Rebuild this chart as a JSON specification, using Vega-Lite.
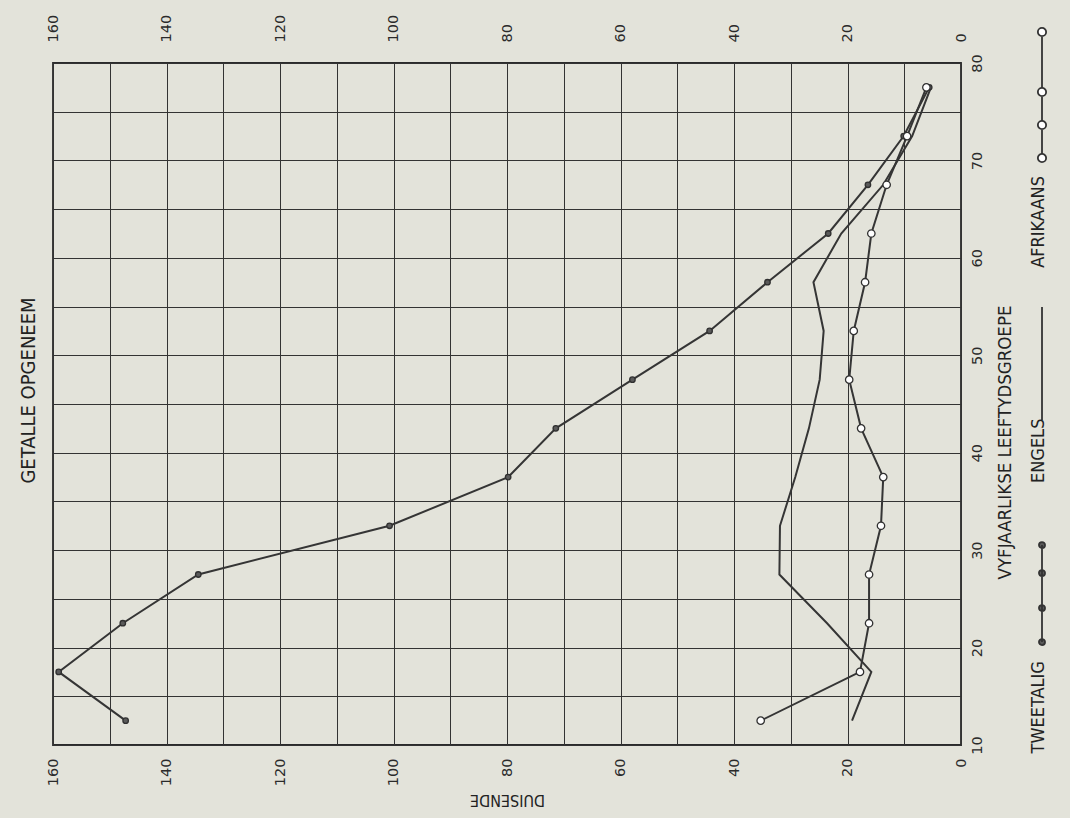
{
  "$schema": "https://vega.github.io/schema/vega-lite/v6.json",
  "autosize": {"type": "none"},
  "padding": {"left": 53, "top": 63, "right": 1017, "bottom": 755},
  "background": "#e3e3da",
  "spacing": 5,
  "config": {
    "view": {"stroke": "#2b2b2b", "strokeWidth": 1.8},
    "axis": {
      "domain": false,
      "ticks": false,
      "labelFont": "DejaVu Sans",
      "labelFontSize": 14.5,
      "labelColor": "#2a2a2a",
      "gridColor": "#333333",
      "gridWidth": 1,
      "gridOpacity": 1,
      "titleFont": "'DejaVu Sans Condensed', 'Liberation Sans Narrow', 'Roboto Condensed', Roboto, sans-serif",
      "titleFontSize": 18.5,
      "titleFontWeight": "normal",
      "titleColor": "#222222"
    }
  },
  "hconcat": [
    {
      "width": 908,
      "height": 682,
      "data": {
        "values": [
          {"group": "TWEETALIG", "age": 12.5, "value": 147.2},
          {"group": "TWEETALIG", "age": 17.5, "value": 159.0},
          {"group": "TWEETALIG", "age": 22.5, "value": 147.7},
          {"group": "TWEETALIG", "age": 27.5, "value": 134.4},
          {"group": "TWEETALIG", "age": 32.5, "value": 100.7},
          {"group": "TWEETALIG", "age": 37.5, "value": 79.8},
          {"group": "TWEETALIG", "age": 42.5, "value": 71.4},
          {"group": "TWEETALIG", "age": 47.5, "value": 57.9},
          {"group": "TWEETALIG", "age": 52.5, "value": 44.3},
          {"group": "TWEETALIG", "age": 57.5, "value": 34.1},
          {"group": "TWEETALIG", "age": 62.5, "value": 23.4},
          {"group": "TWEETALIG", "age": 67.5, "value": 16.4},
          {"group": "TWEETALIG", "age": 72.5, "value": 10.1},
          {"group": "TWEETALIG", "age": 77.5, "value": 5.6},
          {"group": "ENGELS", "age": 12.5, "value": 19.2},
          {"group": "ENGELS", "age": 17.5, "value": 15.8},
          {"group": "ENGELS", "age": 22.5, "value": 23.6},
          {"group": "ENGELS", "age": 27.5, "value": 32.0},
          {"group": "ENGELS", "age": 32.5, "value": 31.9},
          {"group": "ENGELS", "age": 37.5, "value": 29.2},
          {"group": "ENGELS", "age": 42.5, "value": 26.8},
          {"group": "ENGELS", "age": 47.5, "value": 24.9},
          {"group": "ENGELS", "age": 52.5, "value": 24.2},
          {"group": "ENGELS", "age": 57.5, "value": 26.0},
          {"group": "ENGELS", "age": 62.5, "value": 21.1},
          {"group": "ENGELS", "age": 67.5, "value": 13.7},
          {"group": "ENGELS", "age": 72.5, "value": 8.6},
          {"group": "ENGELS", "age": 77.5, "value": 5.3},
          {"group": "AFRIKAANS", "age": 12.5, "value": 35.3},
          {"group": "AFRIKAANS", "age": 17.5, "value": 17.8},
          {"group": "AFRIKAANS", "age": 22.5, "value": 16.2},
          {"group": "AFRIKAANS", "age": 27.5, "value": 16.2},
          {"group": "AFRIKAANS", "age": 32.5, "value": 14.1},
          {"group": "AFRIKAANS", "age": 37.5, "value": 13.7},
          {"group": "AFRIKAANS", "age": 42.5, "value": 17.6},
          {"group": "AFRIKAANS", "age": 47.5, "value": 19.7},
          {"group": "AFRIKAANS", "age": 52.5, "value": 18.9},
          {"group": "AFRIKAANS", "age": 57.5, "value": 16.9},
          {"group": "AFRIKAANS", "age": 62.5, "value": 15.8},
          {"group": "AFRIKAANS", "age": 67.5, "value": 13.1},
          {"group": "AFRIKAANS", "age": 72.5, "value": 9.5},
          {"group": "AFRIKAANS", "age": 77.5, "value": 6.1}
        ]
      },
      "layer": [
        {
          "mark": {"type": "line", "color": "#353535", "strokeWidth": 2},
          "encoding": {
            "x": {
              "field": "value",
              "type": "quantitative",
              "scale": {"domain": [0, 160], "reverse": true, "nice": false},
              "axis": {
                "orient": "bottom",
                "values": [0, 10, 20, 30, 40, 50, 60, 70, 80, 90, 100, 110, 120, 130, 140, 150, 160],
                "labelExpr": "datum.value % 20 === 0 ? datum.label : ''",
                "grid": true,
                "labelAngle": -90,
                "labelPadding": 13,
                "title": "DUISENDE",
                "titleAngle": 180,
                "titleFontSize": 16,
                "titleX": 454,
                "titleY": 54,
                "titleAlign": "center",
                "titleBaseline": "middle"
              }
            },
            "y": {
              "field": "age",
              "type": "quantitative",
              "scale": {"domain": [10, 80], "nice": false, "zero": false},
              "axis": {
                "orient": "right",
                "values": [10, 15, 20, 25, 30, 35, 40, 45, 50, 55, 60, 65, 70, 75, 80],
                "labelExpr": "datum.value % 10 === 0 ? datum.label : ''",
                "grid": true,
                "labelAngle": -90,
                "labelAlign": "center",
                "labelBaseline": "top",
                "labelPadding": 9,
                "title": "VYFJAARLIKSE  LEEFTYDSGROEPE",
                "titleAngle": -90,
                "titleX": 43,
                "titleY": 379,
                "titleAlign": "center",
                "titleBaseline": "middle"
              }
            },
            "detail": {"field": "group"},
            "order": {"field": "age"}
          }
        },
        {
          "transform": [{"filter": "datum.group !== 'ENGELS'"}],
          "mark": {"type": "point", "filled": true, "stroke": "#303030", "strokeWidth": 1.3, "opacity": 1, "shape": "circle"},
          "encoding": {
            "x": {
              "field": "value",
              "type": "quantitative",
              "scale": {"domain": [0, 160], "reverse": true, "nice": false},
              "axis": {
                "orient": "top",
                "values": [0, 20, 40, 60, 80, 100, 120, 140, 160],
                "grid": false,
                "labelAngle": -90,
                "labelPadding": 21,
                "title": null
              }
            },
            "y": {
              "field": "age",
              "type": "quantitative",
              "scale": {"domain": [10, 80], "nice": false, "zero": false},
              "axis": {
                "orient": "left",
                "labels": false,
                "grid": false,
                "title": "GETALLE  OPGENEEM",
                "titleFontSize": 20,
                "titleAngle": -90,
                "titleX": -25,
                "titleY": 327,
                "titleAlign": "center",
                "titleBaseline": "middle"
              }
            },
            "size": {
              "field": "group",
              "type": "ordinal",
              "scale": {"domain": ["AFRIKAANS", "TWEETALIG"], "range": [55, 30]},
              "legend": null
            },
            "fill": {
              "field": "group",
              "type": "nominal",
              "scale": {"domain": ["AFRIKAANS", "ENGELS", "TWEETALIG"], "range": ["#ffffff", "#ffffff", "#5a5a5a"]},
              "legend": null
            }
          }
        }
      ],
      "resolve": {"axis": {"x": "independent", "y": "independent"}}
    },
    {
      "width": 44,
      "height": 682,
      "view": {"stroke": null},
      "data": {
        "values": [
          {"group": "AFRIKAANS"},
          {"group": "ENGELS"},
          {"group": "TWEETALIG"}
        ]
      },
      "layer": [
        {
          "mark": {"type": "point", "filled": true, "stroke": "#333333", "strokeWidth": 1.8, "size": 12100, "opacity": 1},
          "encoding": {
            "y": {
              "field": "group",
              "type": "nominal",
              "scale": {"type": "point", "domain": ["AFRIKAANS", "ENGELS", "TWEETALIG"], "padding": 0.406, "align": 0.447},
              "axis": null
            },
            "shape": {
              "field": "group",
              "type": "nominal",
              "scale": {
                "domain": ["AFRIKAANS", "ENGELS", "TWEETALIG"],
                "range": [
                  "M0,-2.089V-1.148M0,-0.998V-0.548M0,-0.398V0.052M0.075,-2.164A0.075,0.075 0 1 1 -0.075,-2.164A0.075,0.075 0 1 1 0.075,-2.164ZM0.075,-1.073A0.075,0.075 0 1 1 -0.075,-1.073A0.075,0.075 0 1 1 0.075,-1.073ZM0.075,-0.473A0.075,0.075 0 1 1 -0.075,-0.473A0.075,0.075 0 1 1 0.075,-0.473ZM0.075,0.127A0.075,0.075 0 1 1 -0.075,0.127A0.075,0.075 0 1 1 0.075,0.127Z",
                  "M0,-1.573V0.482",
                  "M0,-1.655V0.109M0.055,-1.655A0.055,0.055 0 1 1 -0.055,-1.655A0.055,0.055 0 1 1 0.055,-1.655ZM0.055,-1.145A0.055,0.055 0 1 1 -0.055,-1.145A0.055,0.055 0 1 1 0.055,-1.145ZM0.055,-0.509A0.055,0.055 0 1 1 -0.055,-0.509A0.055,0.055 0 1 1 0.055,-0.509ZM0.055,0.109A0.055,0.055 0 1 1 -0.055,0.109A0.055,0.055 0 1 1 0.055,0.109Z"
                ]
              },
              "legend": null
            },
            "fill": {
              "field": "group",
              "type": "nominal",
              "scale": {"domain": ["AFRIKAANS", "ENGELS", "TWEETALIG"], "range": ["#ffffff", "#ffffff", "#5a5a5a"]},
              "legend": null
            }
          }
        },
        {
          "mark": {
            "type": "text",
            "angle": -90,
            "align": "right",
            "baseline": "middle",
            "dx": -25,
            "dy": -3,
            "font": "'DejaVu Sans Condensed', 'Liberation Sans Narrow', 'Roboto Condensed', Roboto, sans-serif",
            "fontSize": 18,
            "color": "#222222"
          },
          "encoding": {
            "y": {
              "field": "group",
              "type": "nominal",
              "scale": {"type": "point", "domain": ["AFRIKAANS", "ENGELS", "TWEETALIG"], "padding": 0.406, "align": 0.447},
              "axis": null
            },
            "text": {"field": "group"}
          }
        }
      ]
    }
  ]
}
